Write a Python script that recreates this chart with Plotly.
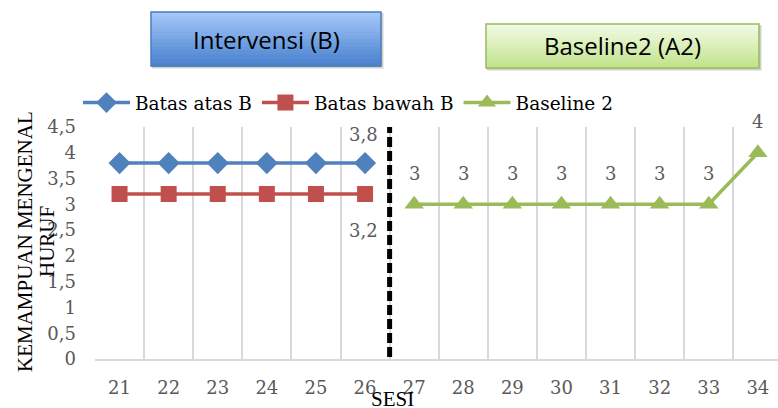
import plotly.graph_objects as go

W, H = 778, 408

sesi_b = [21, 22, 23, 24, 25, 26]
batas_atas = [3.8, 3.8, 3.8, 3.8, 3.8, 3.8]
batas_bawah = [3.2, 3.2, 3.2, 3.2, 3.2, 3.2]
sesi_a2 = [27, 28, 29, 30, 31, 32, 33, 34]
baseline2 = [3, 3, 3, 3, 3, 3, 3, 4]
x_ticks = list(range(21, 35))
x_ticktext = [str(v) for v in x_ticks]
y_ticks = [0, 0.5, 1, 1.5, 2, 2.5, 3, 3.5, 4, 4.5]

SERIF = "DejaVu Serif, serif"
TSERIF = "Liberation Serif, serif"
SANS = "Open Sans, Noto Sans, sans-serif"
GRAY = "#595959"

def fmt(v):
    return f"{v:g}".replace(".", ",")

fig = go.Figure()
fig.add_trace(go.Scatter(x=sesi_b, y=batas_atas, name="Batas atas B", mode="lines+markers",
                         line=dict(color="#4f81bd", width=3.5),
                         marker=dict(symbol="diamond", size=17, color="#4f81bd")))
fig.add_trace(go.Scatter(x=sesi_b, y=batas_bawah, name="Batas bawah B", mode="lines+markers",
                         line=dict(color="#c0504d", width=3.5),
                         marker=dict(symbol="square", size=16, color="#c0504d")))
fig.add_trace(go.Scatter(x=sesi_a2, y=baseline2, name="Baseline 2", mode="lines+markers",
                         line=dict(color="#9bbb59", width=3.5),
                         marker=dict(symbol="triangle-up", size=17, color="#9bbb59")))

ann = []
lab_font = dict(family=SERIF, size=18, color=GRAY)
ann.append(dict(x=sesi_b[-1], y=batas_atas[-1], text=fmt(batas_atas[-1]), showarrow=False,
                xanchor="center", yanchor="middle", yshift=29, xshift=-2, font=lab_font))
ann.append(dict(x=sesi_b[-1], y=batas_bawah[-1], text=fmt(batas_bawah[-1]), showarrow=False,
                xanchor="center", yanchor="middle", yshift=-36, xshift=-2, font=lab_font))
for xv, yv in zip(sesi_a2, baseline2):
    ann.append(dict(x=xv, y=yv, text=fmt(yv), showarrow=False, xanchor="center",
                    yanchor="middle", yshift=31, font=lab_font))

# axis titles
ttl_font = dict(family=TSERIF, size=21, color="black")
ann.append(dict(xref="paper", yref="paper", x=25 / W, y=(H - 242) / H, text="KEMAMPUAN MENGENAL",
                textangle=-90, showarrow=False, xanchor="center", yanchor="middle", font=ttl_font))
ann.append(dict(xref="paper", yref="paper", x=47 / W, y=(H - 242) / H, text="HURUF",
                textangle=-90, showarrow=False, xanchor="center", yanchor="middle", font=ttl_font))
ann.append(dict(xref="paper", yref="paper", x=392 / W, y=(H - 385) / H, text="SESI",
                showarrow=False, xanchor="center", yanchor="top", font=ttl_font))

shapes = []
def box(x0, y0, x1, y1, top, bot, border, n=14):
    for k, a in ((3, 0.08), (2, 0.12)):
        shapes.append(dict(type="rect", xref="paper", yref="paper", x0=(x0 + 1) / W,
                           x1=(x1 + k) / W, y0=(H - y1 - k) / H, y1=(H - y0 - 1) / H,
                           fillcolor=f"rgba(0,0,0,{a})", line=dict(width=0), layer="below"))
    def hx(c):
        return [int(c[i:i + 2], 16) for i in (1, 3, 5)]
    t, b = hx(top), hx(bot)
    for i in range(n):
        f = i / (n - 1)
        c = [round(t[k] + (b[k] - t[k]) * f) for k in range(3)]
        ya = y0 + (y1 - y0) * i / n
        yb = y0 + (y1 - y0) * (i + 1) / n + 0.5
        shapes.append(dict(type="rect", xref="paper", yref="paper", x0=x0 / W, x1=x1 / W,
                           y0=(H - yb) / H, y1=(H - ya) / H, fillcolor=f"rgb({c[0]},{c[1]},{c[2]})",
                           line=dict(width=0), layer="below"))
    shapes.append(dict(type="rect", xref="paper", yref="paper", x0=x0 / W, x1=x1 / W,
                       y0=(H - y1) / H, y1=(H - y0) / H, line=dict(color=border, width=1.5),
                       layer="below"))

box(151, 12, 381, 66, "#a3c7f8", "#4a82d0", "#4a7ebb")
box(486, 24, 759, 68, "#f1fbe4", "#c2e38c", "#9bbb59")
box_font = dict(family=SANS, size=24, color="black")
ann.append(dict(xref="paper", yref="paper", x=266 / W, y=(H - 40) / H, text="Intervensi (B)",
                showarrow=False, xanchor="center", yanchor="middle", font=box_font))
ann.append(dict(xref="paper", yref="paper", x=622 / W, y=(H - 45) / H, text="Baseline2 (A2)",
                showarrow=False, xanchor="center", yanchor="middle", font=box_font))

# phase change line
shapes.append(dict(type="line", xref="x", yref="y", x0=26.5, x1=26.5, y0=0.04, y1=4.5,
                   line=dict(color="black", width=5, dash="10px,4px")))

fig.update_layout(
    width=W, height=H, margin=dict(l=0, r=0, t=0, b=0, autoexpand=False),
    paper_bgcolor="white", plot_bgcolor="white",
    separators=",.",
    showlegend=True,
    legend=dict(orientation="h", x=78 / W, y=(H - 84) / H, xanchor="left", yanchor="top",
                font=dict(family=SERIF, size=18.5, color="black"), bgcolor="rgba(0,0,0,0)",
                tracegroupgap=0, itemwidth=47),
    xaxis=dict(domain=[95 / W, 1], range=[20.5, 34.41], tickmode="array", tickvals=x_ticks,
               ticktext=x_ticktext, showgrid=False, zeroline=False, showline=True,
               linecolor="#d9d9d9", linewidth=1.5, ticks="", ticklabelstandoff=12,
               automargin=False,
               tickfont=dict(family=SERIF, size=18, color=GRAY),
               minor=dict(tickmode="array", tickvals=[v - 0.5 for v in x_ticks],
                          showgrid=True, gridcolor="#d9d9d9", gridwidth=1.5, ticks="")),
    yaxis=dict(domain=[49 / H, 281 / H], range=[0, 4.5], tickmode="array", tickvals=y_ticks,
               showgrid=False, zeroline=False, showline=False, ticks="", ticklabelstandoff=18,
               automargin=False,
               tickfont=dict(family=SERIF, size=18, color=GRAY)),
    annotations=ann, shapes=shapes,
)

fig.write_html("out.html")
